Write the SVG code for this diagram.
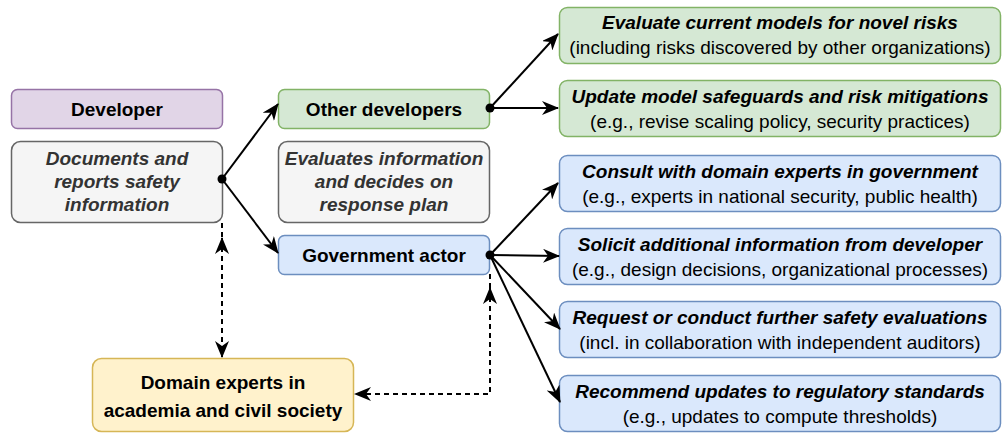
<svg xmlns="http://www.w3.org/2000/svg" width="1002" height="433" viewBox="0 0 1002 433">
<defs>
<marker id="arr" viewBox="0 0 17 14" refX="16" refY="7" markerWidth="17" markerHeight="14" markerUnits="userSpaceOnUse" orient="auto-start-reverse">
<path d="M0,0 L17,7 L0,14 L5,7 Z" fill="#000"/>
</marker>
</defs>
<style>
text{font-family:"Liberation Sans",Arial,sans-serif;font-size:19px;text-anchor:middle;dominant-baseline:central;fill:#000}
.b{font-weight:bold}
.bi{font-weight:bold;font-style:italic}
.g{fill:#333333}
.purple{fill:#e1d5e7;stroke:#9673a6;stroke-width:1.5}
.gray{fill:#f5f5f5;stroke:#666666;stroke-width:1.5}
.green{fill:#d5e8d4;stroke:#82b366;stroke-width:1.5}
.blue{fill:#dae8fc;stroke:#6c8ebf;stroke-width:1.5}
.yellow{fill:#fff2cc;stroke:#d6b656;stroke-width:1.5}
.e{fill:none;stroke:#000;stroke-width:2}
.d{fill:none;stroke:#000;stroke-width:2;stroke-dasharray:5 4}
</style>
<g id="developer"><rect class="purple" x="11.5" y="89.5" width="211" height="39" rx="6"/><text class="b" x="117" y="109">Developer</text></g>
<g id="documents"><rect class="gray" x="11.5" y="141.5" width="211" height="81" rx="9"/><text class="bi g" x="117" y="158">Documents and</text><text class="bi g" x="117" y="181">reports safety</text><text class="bi g" x="117" y="204">information</text></g>
<g id="other-developers"><rect class="green" x="278.5" y="89.5" width="211" height="39" rx="6"/><text class="b" x="384" y="109">Other developers</text></g>
<g id="evaluates"><rect class="gray" x="278.5" y="141.5" width="211" height="81" rx="9"/><text class="bi g" x="384" y="158">Evaluates information</text><text class="bi g" x="384" y="181">and decides on</text><text class="bi g" x="384" y="204">response plan</text></g>
<g id="government"><rect class="blue" x="278.5" y="235.5" width="211" height="39" rx="6"/><text class="b" x="384" y="255">Government actor</text></g>
<g id="domain-experts"><rect class="yellow" x="92.5" y="358.5" width="261" height="73" rx="9"/><text class="b" x="223" y="382">Domain experts in</text><text class="b" x="223" y="410">academia and civil society</text></g>
<g id="evaluate-models"><rect class="green" x="559.5" y="7.5" width="441" height="56" rx="8"/><text class="bi" x="780" y="22">Evaluate current models for novel risks</text><text x="780" y="47">(including risks discovered by other organizations)</text></g>
<g id="update-safeguards"><rect class="green" x="559.5" y="80.5" width="441" height="56" rx="8"/><text class="bi" x="780" y="96">Update model safeguards and risk mitigations</text><text x="780" y="121">(e.g., revise scaling policy, security practices)</text></g>
<g id="consult"><rect class="blue" x="559.5" y="155.5" width="441" height="56" rx="8"/><text class="bi" x="780" y="171">Consult with domain experts in government</text><text x="780" y="196">(e.g., experts in national security, public health)</text></g>
<g id="solicit"><rect class="blue" x="559.5" y="228.5" width="441" height="56" rx="8"/><text class="bi" x="780" y="244">Solicit additional information from developer</text><text x="780" y="269">(e.g., design decisions, organizational processes)</text></g>
<g id="request"><rect class="blue" x="559.5" y="301.5" width="441" height="56" rx="8"/><text class="bi" x="780" y="317">Request or conduct further safety evaluations</text><text x="780" y="342">(incl. in collaboration with independent auditors)</text></g>
<g id="recommend"><rect class="blue" x="559.5" y="375.5" width="441" height="56" rx="8"/><text class="bi" x="780" y="391">Recommend updates to regulatory standards</text><text x="780" y="416">(e.g., updates to compute thresholds)</text></g>
<g id="connectors">
<path class="e" d="M222,179 L278,104" marker-end="url(#arr)"/>
<path class="e" d="M222,179 L278,253" marker-end="url(#arr)"/>
<path class="e" d="M490,108 L558,34" marker-end="url(#arr)"/>
<path class="e" d="M490,108 L558,108" marker-end="url(#arr)"/>
<path class="e" d="M490,255 L558,183" marker-end="url(#arr)"/>
<path class="e" d="M490,255 L559,256" marker-end="url(#arr)"/>
<path class="e" d="M490,255 L560,329" marker-end="url(#arr)"/>
<path class="e" d="M490,255 L560,402" marker-end="url(#arr)"/>
<path class="d" d="M222,223 L222,238"/>
<path class="d" d="M222,238 L222,357" marker-start="url(#arr)" marker-end="url(#arr)"/>
<path class="d" d="M490,274 L490,288"/>
<path class="d" d="M490,288 L490,394 L355,394" marker-start="url(#arr)" marker-end="url(#arr)"/>
<circle cx="222" cy="179" r="4.5" fill="#000"/>
<circle cx="490" cy="108" r="4.5" fill="#000"/>
<circle cx="490" cy="255" r="4.5" fill="#000"/>
</g>
</svg>
